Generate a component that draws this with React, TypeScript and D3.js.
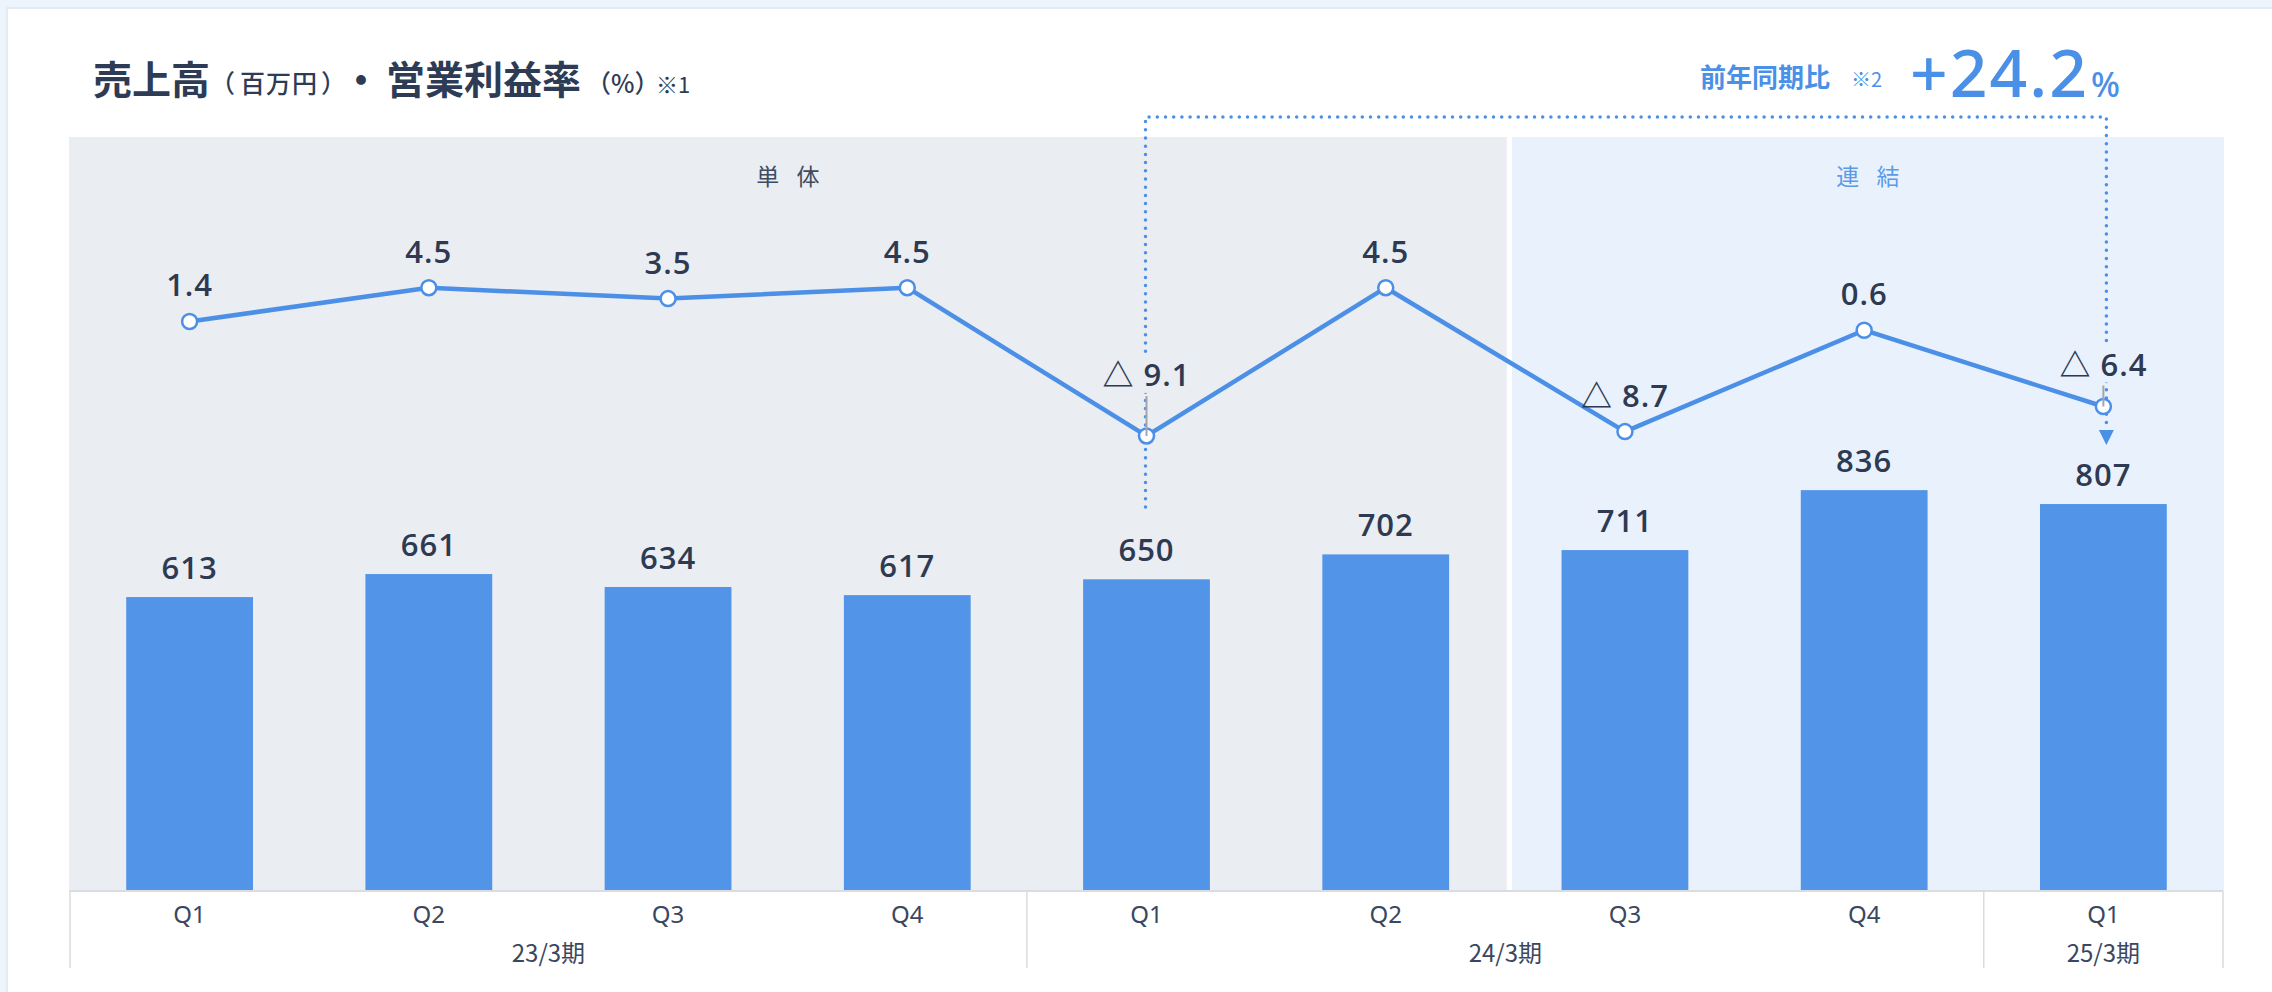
import * as d3 from 'd3'

const quarters = ['Q1', 'Q2', 'Q3', 'Q4', 'Q1', 'Q2', 'Q3', 'Q4', 'Q1']
const fiscalYears = ['23/3期', '23/3期', '23/3期', '23/3期', '24/3期', '24/3期', '24/3期', '24/3期', '25/3期']
const segments = ['単 体', '単 体', '単 体', '単 体', '単 体', '単 体', '連 結', '連 結', '連 結']
const sales = [613, 661, 634, 617, 650, 702, 711, 836, 807]
const marginRate = [1.4, 4.5, 3.5, 4.5, -9.1, 4.5, -8.7, 0.6, -6.4]
const yoyValue = '+24.2'
const yoyFrom = 4
const yoyTo = 8

const W = 2272
const H = 992
const BAR = '#5294e8'
const LINE = '#4c8fe6'
const INK = '#2d3a52'
const AXIS_INK = '#3a4760'
const GRID = '#d9dce1'
const panelFill: Record<string, string> = { '単 体': '#eaedf2', '連 結': '#e9f1fd' }
const panelInk: Record<string, string> = { '単 体': '#3e4b61', '連 結': '#5a9be8' }
const NUM_FONT = "'Noto Sans', 'Noto Sans CJK JP', sans-serif"
const VALUE_FONT = "'Open Sans', 'Noto Sans', 'Noto Sans CJK JP', sans-serif"
const JP_FONT = "'Noto Sans CJK JP', 'Noto Sans', sans-serif"

// labels that sit on the dotted connector get lifted and a small leader
const labelLift: Record<number, number> = { 4: 50, 8: 31 }

const runs = (arr: string[]) => {
  const out: { key: string; start: number; end: number }[] = []
  arr.forEach((v, i) => {
    const last = out[out.length - 1]
    if (last && last.key === v) last.end = i
    else out.push({ key: v, start: i, end: i })
  })
  return out
}

const fmtRate = (v: number) => (v < 0 ? '△ ' + Math.abs(v).toFixed(1) : v.toFixed(1))

export default function App() {
  const keys = quarters.map((q, i) => fiscalYears[i] + q)
  const x = d3.scaleBand<string>().domain(keys).range([70, 2223]).paddingInner(0.47).paddingOuter(0.235)
  const step = x.step()
  const x0 = 70
  const edge = (i: number) => x0 + i * step
  const cx = (i: number) => (x(keys[i]) as number) + x.bandwidth() / 2

  const yBar = d3.scaleLinear().domain([0, 1000]).range([891, 411.5])
  const yRate = d3.scaleLinear().domain([-10, 5]).range([445.75, 282.25])

  const line = d3
    .line<number>()
    .x((_, i) => cx(i))
    .y((d) => yRate(d))

  const panelTop = 137
  const base = yBar(0)
  const panels = runs(segments)
  const years = runs(fiscalYears)

  const leftX = cx(yoyFrom) - 1
  const rightX = cx(yoyTo) + 3
  const topY = 117

  return (
    <>
      <style>{`body{margin:0}`}</style>
      <svg width={W} height={H} style={{ display: 'block' }}>
        <rect width={W} height={H} fill="#eef4fb" />
        <rect x={7} y={8} width={W} height={H} fill="#fff" stroke="#dce7f4" strokeWidth={1.5} />

        {/* title */}
        <g fill="#2e3b55" fontFamily={JP_FONT}>
          <text x={93} y={94} fontSize={39} fontWeight={700}>売上高</text>
          <text x={210} y={93} fontSize={25} fontWeight={500}>（</text>
          <text x={240} y={93} fontSize={25} fontWeight={500} letterSpacing={1}>百万円</text>
          <text x={321} y={93} fontSize={25} fontWeight={500}>）</text>
          <text x={342} y={94} fontSize={38} fontWeight={700}>・</text>
          <text x={386} y={94} fontSize={39} fontWeight={700}>営業利益率</text>
          <text x={586} y={93} fontSize={25} fontWeight={500}>（%）</text>
          <text x={656} y={93} fontSize={22} fontWeight={400}>※1</text>
        </g>

        {/* year-on-year annotation */}
        <g fill="#4a90e6">
          <text x={1700} y={87} fontSize={26} fontWeight={700} fontFamily={JP_FONT}>前年同期比</text>
          <text x={1851} y={87} fontSize={20} fontFamily={JP_FONT}>※2</text>
          <text x={1910} y={97} fontSize={66} fontWeight={500} fontFamily={NUM_FONT} letterSpacing={2}>
            {yoyValue}
          </text>
          <text x={2091} y={97} fontSize={34} fontWeight={500} fontFamily={NUM_FONT}>%</text>
        </g>

        {/* panels */}
        {panels.map((p, k) => {
          const a = k === 0 ? edge(p.start) - 1 : edge(p.start) + 6.5
          const b = k === panels.length - 1 ? edge(p.end + 1) + 1 : edge(p.end + 1) + 1.5
          return (
            <g key={p.key}>
              <rect x={a} y={panelTop} width={b - a} height={base - panelTop} fill={panelFill[p.key]} />
              <text
                x={(a + b) / 2 + 3}
                y={185}
                textAnchor="middle"
                fontSize={23}
                fontFamily={JP_FONT}
                fill={panelInk[p.key]}
                letterSpacing={6}
              >
                {p.key}
              </text>
            </g>
          )
        })}

        {/* bars */}
        {sales.map((v, i) => (
          <rect key={keys[i]} x={x(keys[i])} y={yBar(v)} width={x.bandwidth()} height={base - yBar(v)} fill={BAR} />
        ))}
        {sales.map((v, i) => (
          <text
            key={'s' + i}
            x={cx(i)}
            y={yBar(v) - 18}
            textAnchor="middle"
            fontSize={31}
            fontWeight={600}
            fontFamily={VALUE_FONT}
            fill={INK}
            letterSpacing={1}
          >
            {v}
          </text>
        ))}

        {/* dotted comparison connector */}
        <path
          d={`M${leftX},507 L${leftX},${topY} L${rightX},${topY} L${rightX},424`}
          fill="none"
          stroke="#4a90e6"
          strokeWidth={3.5}
          strokeLinecap="round"
          strokeLinejoin="round"
          strokeDasharray="0 8.2"
        />
        <path d={`M${rightX - 7.5},430 L${rightX + 7.5},430 L${rightX},445 Z`} fill="#4a90e6" />

        {/* margin line */}
        <path d={line(marginRate) ?? ''} fill="none" stroke={LINE} strokeWidth={4.5} strokeLinejoin="round" />
        {marginRate.map((v, i) => (
          <circle key={'c' + i} cx={cx(i)} cy={yRate(v)} r={7.5} fill="#fff" stroke={LINE} strokeWidth={2.5} />
        ))}
        {marginRate.map((v, i) => {
          const lift = labelLift[i] ?? 25
          const ty = yRate(v) - lift
          const bg = segments[i]
          return (
            <g key={'r' + i}>
              {labelLift[i] !== undefined && (
                <>
                  <rect x={cx(i) - 44} y={ty - 31} width={88} height={38} fill={panelFill[bg]} />
                  <line x1={cx(i)} x2={cx(i)} y1={ty + 10} y2={yRate(v)} stroke="#a3a7ad" strokeWidth={2} />
                </>
              )}
              <text
                x={cx(i)}
                y={ty}
                textAnchor="middle"
                fontSize={31}
                fontWeight={600}
                fontFamily={VALUE_FONT}
                fill={INK}
                letterSpacing={1}
              >
                {fmtRate(v)}
              </text>
            </g>
          )
        })}

        {/* category axis */}
        <line x1={edge(0) - 1} x2={edge(keys.length)} y1={base} y2={base} stroke={GRID} strokeWidth={2} />
        {years.map((g) => (
          <line key={'v' + g.key} x1={edge(g.start)} x2={edge(g.start)} y1={base} y2={968} stroke={GRID} strokeWidth={1.5} />
        ))}
        <line x1={edge(keys.length)} x2={edge(keys.length)} y1={base} y2={968} stroke={GRID} strokeWidth={1.5} />
        {quarters.map((q, i) => (
          <text key={'q' + i} x={cx(i)} y={923} textAnchor="middle" fontSize={24} fontFamily={NUM_FONT} fill={AXIS_INK}>
            {q}
          </text>
        ))}
        {years.map((g) => (
          <text
            key={'y' + g.key}
            x={(edge(g.start) + edge(g.end + 1)) / 2}
            y={962}
            textAnchor="middle"
            fontSize={24}
            fontFamily={JP_FONT}
            fill={AXIS_INK}
          >
            {g.key}
          </text>
        ))}
      </svg>
    </>
  )
}
